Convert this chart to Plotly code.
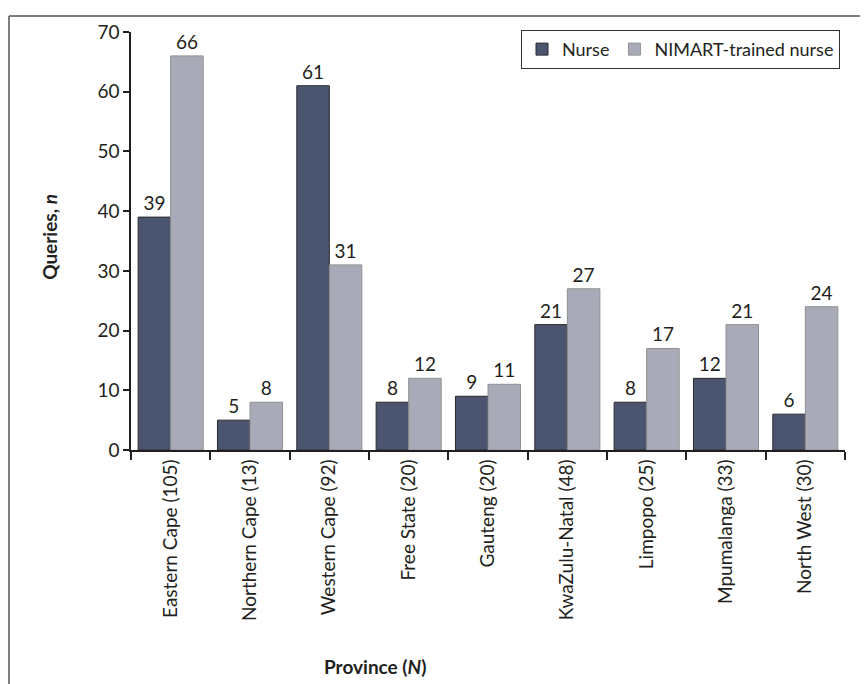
import plotly.graph_objects as go

provinces = ["Eastern Cape (105)", "Northern Cape (13)", "Western Cape (92)", "Free State (20)",
             "Gauteng (20)", "KwaZulu-Natal (48)", "Limpopo (25)", "Mpumalanga (33)", "North West (30)"]
nurse = [39, 5, 61, 8, 9, 21, 8, 12, 6]
nimart = [66, 8, 31, 12, 11, 27, 17, 21, 24]
y_ticks = [0, 10, 20, 30, 40, 50, 60, 70]

FONT = "Lato"
TXT = "#231f20"
FS = 19

fig = go.Figure()
fig.add_trace(go.Bar(
    x=provinces, y=nurse, name="Nurse",
    marker=dict(color="#4b5570", line=dict(color="#2a2a2a", width=1)),
    text=nurse, textposition="outside", cliponaxis=False,
    textfont=dict(size=FS, color=TXT, family=FONT),
))
fig.add_trace(go.Bar(
    x=provinces, y=nimart, name="NIMART-trained nurse",
    marker=dict(color="#a8abb7", line=dict(color="#909090", width=1)),
    text=nimart, textposition="outside", cliponaxis=False,
    textfont=dict(size=FS, color=TXT, family=FONT),
))

# page body has an 8px margin, so the figure is made 8px smaller and offset accordingly
fig.update_layout(
    width=860, height=676,
    margin=dict(l=123, r=23, t=22, b=234),
    paper_bgcolor="white", plot_bgcolor="white",
    font=dict(family=FONT, size=FS, color=TXT),
    barmode="group", bargap=0.18, bargroupgap=0,
    showlegend=True,
    legend=dict(orientation="h", x=0.993, y=1.005, xanchor="right", yanchor="top",
                bordercolor="#333333", borderwidth=1, bgcolor="white",
                font=dict(size=18, family=FONT, color=TXT),
                itemwidth=30, tracegroupgap=0),
    xaxis=dict(
        type="category", showline=True, linecolor="#231f20", linewidth=1.5,
        ticks="outside", ticklen=8, tickcolor="#231f20", tickwidth=1.5,
        tickson="boundaries", tickangle=-90, showgrid=False,
        tickfont=dict(size=FS, family=FONT, color=TXT),
    ),
    yaxis=dict(
        range=[0, 70], tickvals=y_ticks, showline=True, linecolor="#231f20", linewidth=1.5,
        ticks="outside", ticklen=6, tickcolor="#231f20", tickwidth=1.5,
        showgrid=False, zeroline=False,
        tickfont=dict(size=FS, family=FONT, color=TXT),
    ),
    annotations=[
        dict(text="<b>Queries, <i>n</i></b>", xref="paper", yref="paper", x=-0.1134, y=0.51,
             xanchor="center", yanchor="middle",
             textangle=-90, showarrow=False, font=dict(size=FS, family=FONT, color=TXT)),
        dict(text="<b>Province (<i>N</i>)</b>", xref="paper", yref="paper", x=0.342, y=-0.519,
             xanchor="center", yanchor="middle",
             showarrow=False, font=dict(size=FS, family=FONT, color=TXT)),
    ],
    shapes=[
        dict(type="line", xref="paper", yref="paper", x0=-0.1709, x1=1.05, y0=1.038, y1=1.038,
             line=dict(color="#555555", width=1.5)),
        dict(type="line", xref="paper", yref="paper", x0=-0.1709, x1=-0.1709, y0=1.038, y1=-0.6,
             line=dict(color="#555555", width=1.5)),
    ],
)

fig.write_html("out.html")
